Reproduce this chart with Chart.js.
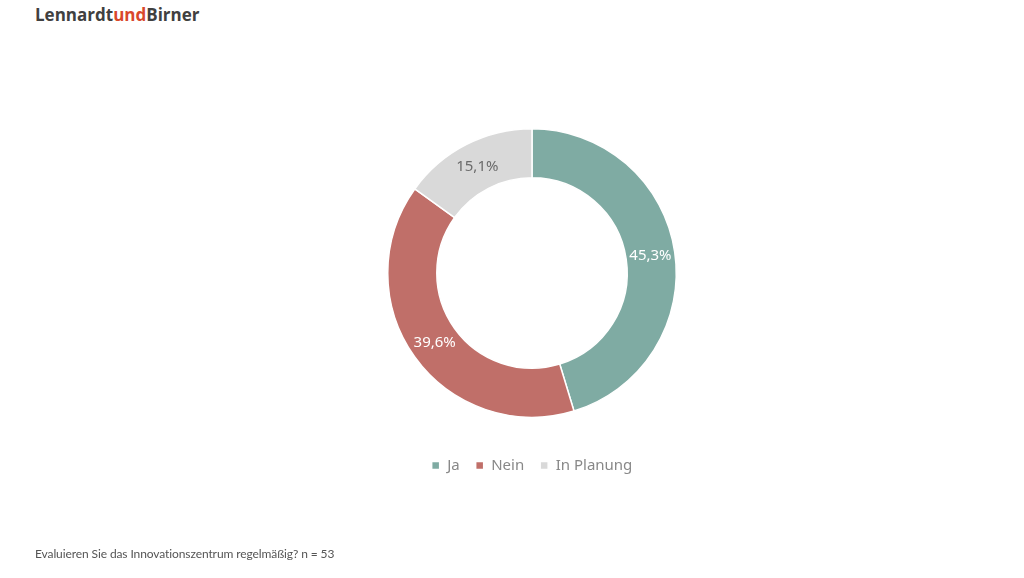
<!DOCTYPE html>
<html>
<head>
<meta charset="utf-8">
<script src="https://cdn.jsdelivr.net/npm/chart.js@4"></script>
<style>
  html, body { margin: 0; padding: 0; background: #fff; }
  #wrap { position: relative; width: 1024px; height: 578px; overflow: hidden; }
  #logo { position: absolute; left: 35px; top: 3px; font-family: "Open Sans", sans-serif; font-weight: 700; font-size: 17px; color: #404040; letter-spacing: 0px; }
  #logo span { color: #D9482B; }
  #foot { position: absolute; left: 35px; top: 546px; font-family: "Lato", sans-serif; font-size: 12px; letter-spacing: -0.1px; font-variant-ligatures: none; color: #555; }
  #c { position: absolute; left: 0; top: 0; }
</style>
</head>
<body>
<div id="wrap">
  <div id="logo">Lennardt<span>und</span>Birner</div>
  <canvas id="c" width="1024" height="578"></canvas>
  <div id="foot">Evaluieren Sie das Innovationszentrum regelmäßig? n = 53</div>
</div>
<script>
const categories = ["Ja", "Nein", "In Planung"];
const values = [45.3, 39.6, 15.1];
const colors = ["#7FABA3", "#C06F69", "#D9D9D9"];
const labelColors = ["#ffffff", "#ffffff", "#6b6b6b"];

const valueLabels = {
  id: "valueLabels",
  afterDatasetsDraw(chart) {
    const ctx = chart.ctx;
    const meta = chart.getDatasetMeta(0);
    ctx.save();
    ctx.font = "15px 'Noto Sans', sans-serif";
    ctx.textAlign = "center";
    ctx.textBaseline = "middle";
    meta.data.forEach((arc, i) => {
      const p = arc.getCenterPoint();
      ctx.fillStyle = labelColors[i];
      ctx.fillText(values[i].toFixed(1).replace(".", ",") + "%", p.x, p.y);
    });
    ctx.restore();
  }
};

new Chart(document.getElementById("c"), {
  type: "doughnut",
  data: {
    labels: categories,
    datasets: [{
      data: values,
      backgroundColor: colors,
      borderColor: "#ffffff",
      borderWidth: 1.5,
      hoverOffset: 0
    }]
  },
  options: {
    responsive: false,
    animation: false,
    cutout: "66%",
    layout: { padding: { left: 387, right: 347, top: 104, bottom: 95 } },
    plugins: {
      tooltip: { enabled: false },
      legend: {
        position: "bottom",
        labels: {
          boxWidth: 8,
          boxHeight: 8,
          padding: 16,
          color: "#888888",
          font: { family: "'Noto Sans', sans-serif", size: 15 }
        }
      }
    }
  },
  plugins: [valueLabels]
});
</script>
</body>
</html>
